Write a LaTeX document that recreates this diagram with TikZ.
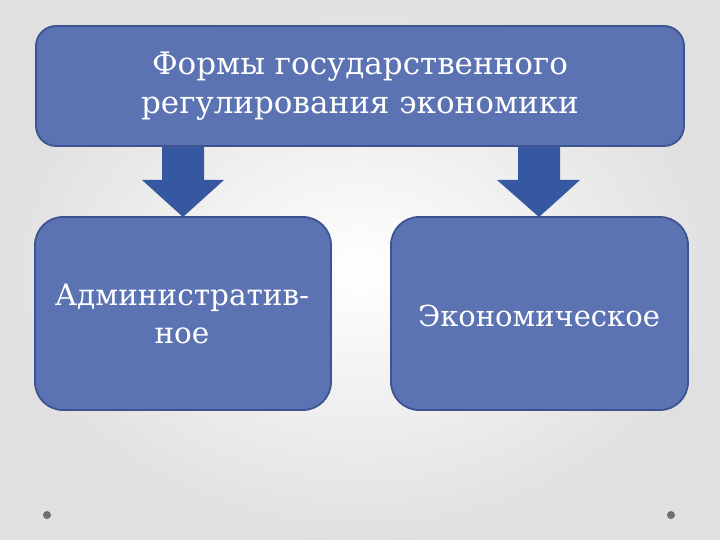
\documentclass[tikz,border=0pt]{standalone}
\usepackage{fontspec}
\setmainfont{DejaVu Serif}
\usetikzlibrary{shapes.arrows}
\definecolor{boxfill}{HTML}{5B72B3}
\definecolor{boxline}{HTML}{3E5490}
\definecolor{arrowfill}{HTML}{3558A0}
\definecolor{dotgray}{HTML}{6E6E6E}
\tikzset{
  rbox/.style={draw=boxline, line width=1.8pt, fill=boxfill, text=white, align=center},
  barrow/.style={fill=arrowfill, draw=none},
  boxtext/.style={text=white, align=center, inner sep=0pt},
  dotmark/.style={circle, fill=dotgray, inner sep=0pt, minimum size=8pt}
}
\begin{document}
\begin{tikzpicture}[x=1pt,y=-1pt]
\useasboundingbox (0,0) rectangle (720,540);
\shade[inner color=white, outer color=black!12] (0,0) rectangle (720,540);
% arrows
\fill[barrow] (162,140) -- (204,140) -- (204,180) -- (224,180) -- (183,217) -- (142,180) -- (162,180) -- cycle;
\fill[barrow] (518,140) -- (560,140) -- (560,180) -- (580,180) -- (539,217) -- (497,180) -- (518,180) -- cycle;
% boxes
\draw[rbox, rounded corners=20pt] (36,26) rectangle (684,146);
\draw[rbox, rounded corners=28pt] (35,217) rectangle (331,410);
\draw[rbox, rounded corners=28pt] (391,217) rectangle (688,410);
\node[boxtext, font=\fontsize{31}{39}\selectfont] (top) at (360,86) {Формы государственного\\регулирования экономики};
\node[boxtext, font=\fontsize{29.5}{38}\selectfont] (adm) at (182,314) {Административ-\\ное};
\node[boxtext, font=\fontsize{29}{38}\selectfont] (eco) at (539,316) {Экономическое};
\node[dotmark] (d1) at (47,515) {};
\node[dotmark] (d2) at (671,515) {};
\end{tikzpicture}
\end{document}
